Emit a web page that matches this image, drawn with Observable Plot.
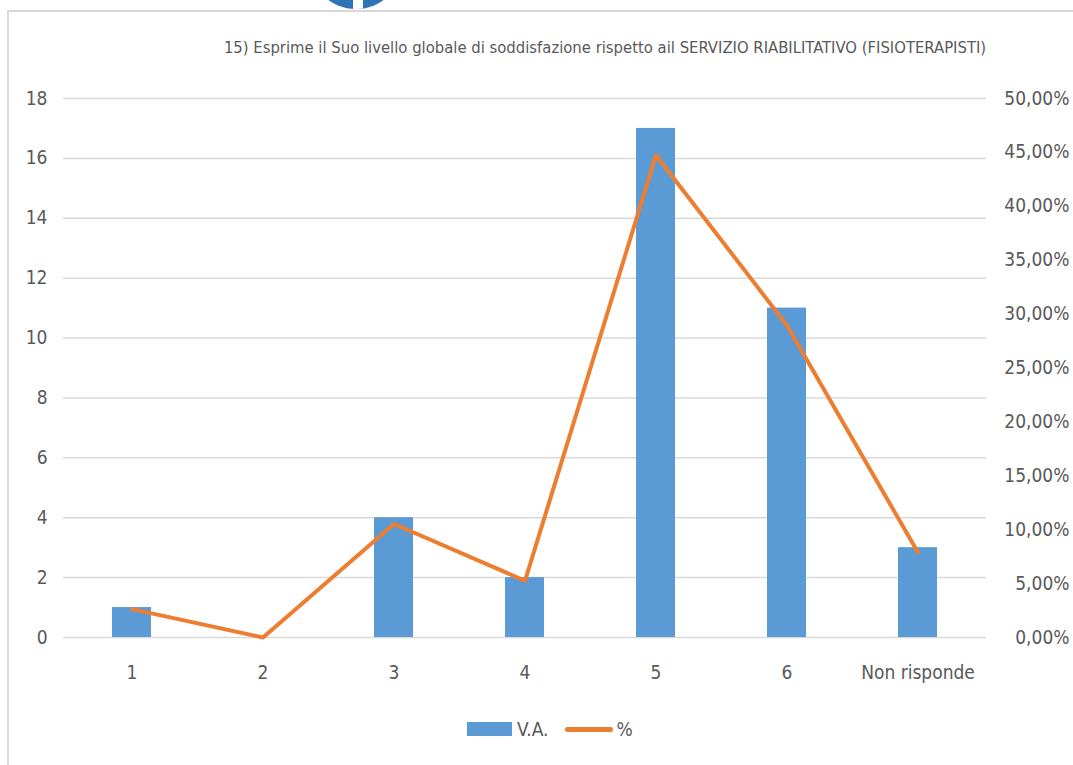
<!DOCTYPE html>
<html>
<head>
<meta charset="utf-8">
<script src="https://cdn.jsdelivr.net/npm/d3@7"></script>
<script src="https://cdn.jsdelivr.net/npm/@observablehq/plot@0.6"></script>
<style>
  html, body { margin: 0; padding: 0; background: #fff; }
  body { width: 1073px; height: 765px; position: relative; overflow: hidden;
         font-family: "Liberation Sans Narrow", "DejaVu Sans Condensed", "Roboto Condensed", sans-serif; color: #595959; }
  #frame { position: absolute; left: 7px; top: 10px; width: 1100px; height: 800px; border: 2px solid #d9d9d9; box-sizing: border-box; }
  #logo { position: absolute; left: 309px; top: -85px; width: 94px; height: 94px; border-radius: 50%; background: #2e75b6; overflow: hidden; }
  #logo::after { content: ""; position: absolute; left: 44px; top: 0; width: 10px; height: 94px; background: #fff; }
  #title { position: absolute; left: 0; width: 1210px; top: 38px; text-align: center; font-size: 16.5px; white-space: nowrap; }
  #chart { position: absolute; left: 0; top: 0; }
  #legend { position: absolute; top: 718px; left: 467px; height: 22px; display: flex; align-items: center; font-size: 19px; }
  .sw-bar { width: 45px; height: 14px; background: #5b9bd5; margin-right: 5px; }
  .sw-line { width: 48px; height: 5px; border-radius: 3px; background: #ed7d31; margin-left: 17px; margin-right: 3px; }
</style>
</head>
<body>
<div id="frame"></div>
<div id="logo"></div>
<div id="title">15) Esprime il Suo livello globale di soddisfazione rispetto ail SERVIZIO RIABILITATIVO (FISIOTERAPISTI)</div>
<div id="chart"></div>
<div id="legend"><div class="sw-bar"></div><span>V.A.</span><div class="sw-line"></div><span>%</span></div>
<script>
const categories = ["1", "2", "3", "4", "5", "6", "Non risponde"];
const va = [1, 0, 4, 2, 17, 11, 3];
const pct = [0.0263, 0.0, 0.1053, 0.0526, 0.4474, 0.2895, 0.0789];
const leftTicks = [0, 2, 4, 6, 8, 10, 12, 14, 16, 18];
const rightTicks = [0, 0.05, 0.10, 0.15, 0.20, 0.25, 0.30, 0.35, 0.40, 0.45, 0.50];

const leftMax = 18, rightMax = 0.5;
const toLeft = p => p * leftMax / rightMax;

const data = categories.map((c, i) => ({cat: c, va: va[i], pct: pct[i]}));
const fmtPct = p => (p * 100).toFixed(2).replace(".", ",") + "%";

const chart = Plot.plot({
  width: 1073,
  height: 690,
  marginLeft: 63,
  marginRight: 87,
  marginTop: 98,
  marginBottom: 53,
  style: {fontFamily: '"Liberation Sans Narrow", "DejaVu Sans Condensed", sans-serif', fontSize: "19px", color: "#595959", background: "transparent"},
  x: {domain: categories, paddingInner: 0.7, paddingOuter: 0.35, label: null},
  y: {domain: [0, leftMax], label: null},
  marks: [
    Plot.gridY(leftTicks, {stroke: "#d9d9d9", strokeOpacity: 1, strokeWidth: 1.5}),
    Plot.barY(data, {x: "cat", y: "va", fill: "#5b9bd5"}),
    Plot.lineY(data, {x: "cat", y: d => toLeft(d.pct), stroke: "#ed7d31", strokeWidth: 4, strokeLinejoin: "round"}),
    Plot.axisY({ticks: leftTicks, tickSize: 0, tickPadding: 16, label: null, fill: "#595959"}),
    Plot.axisY({anchor: "right", ticks: rightTicks.map(toLeft), tickFormat: v => fmtPct(v * rightMax / leftMax), tickSize: 0, textAnchor: "end", dx: 74, label: null, fill: "#595959"}),
    Plot.axisX({tickSize: 0, tickPadding: 28, label: null, fill: "#595959"})
  ]
});
document.getElementById("chart").appendChild(chart);
</script>
</body>
</html>
